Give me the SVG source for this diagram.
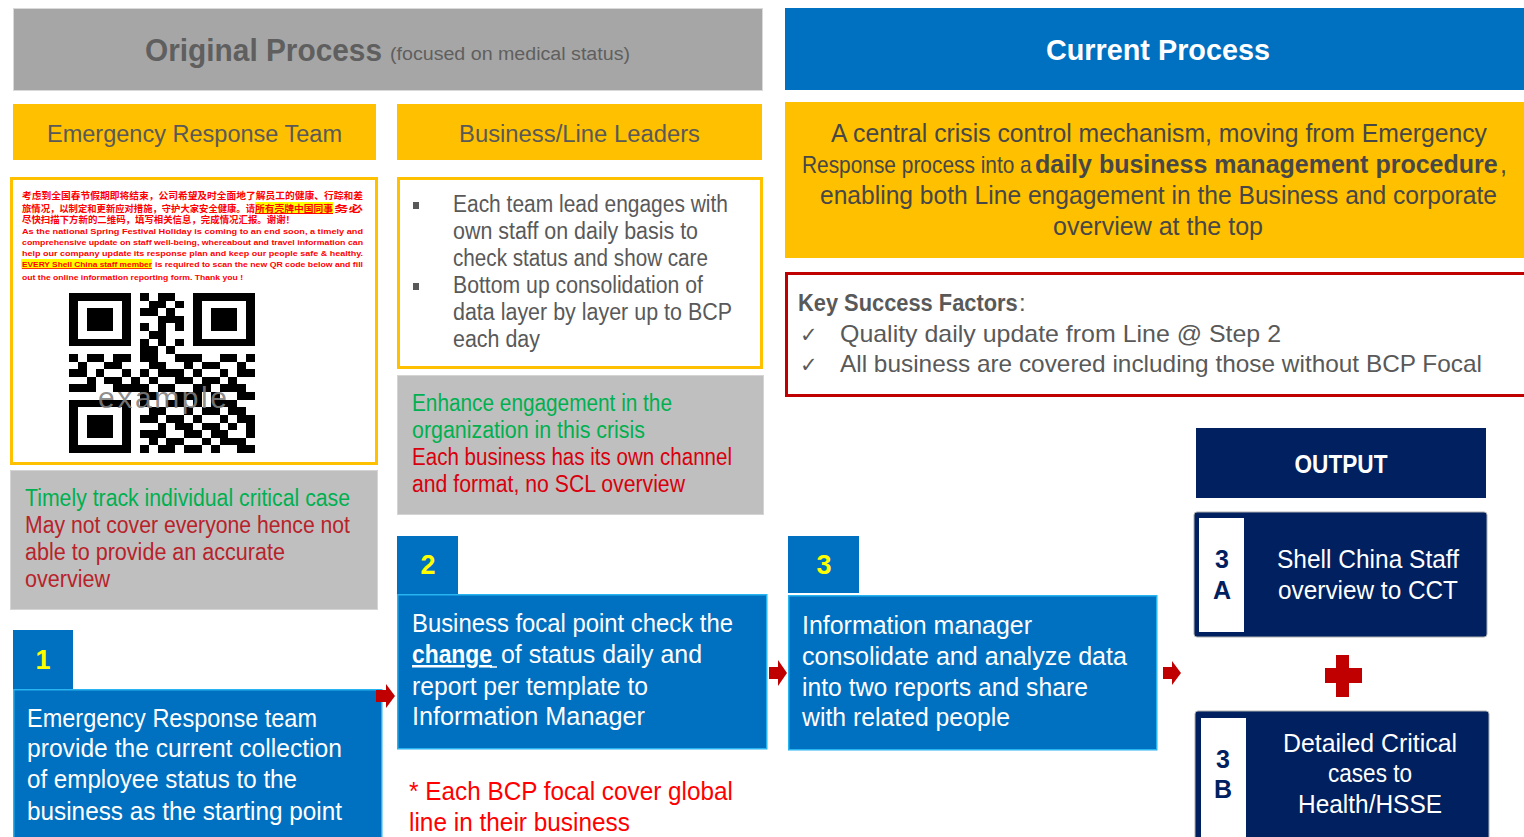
<svg xmlns="http://www.w3.org/2000/svg" width="1524" height="837" viewBox="0 0 1524 837">
<style>
text { font-family: "Liberation Sans", Arial, sans-serif; }
.gt { fill:#595959; }
.dg { fill:#474747; }
.yl { fill:#ffc000; }
.blue { fill:#0070c0; stroke:#28b4f0; stroke-width:1.5; }
.tab { fill:#0070c0; }
.num { fill:#ffff00; font-size:27px; font-weight:bold; text-anchor:middle; }
.step { fill:#ffffff; font-size:25px; }
.gray { fill:#bfbfbf; stroke:#d4d4d4; stroke-width:1; }
.green { fill:#00b050; font-size:23px; }
.red1 { fill:#b8232b; font-size:23px; }
.red2 { fill:#d9000d; font-size:23px; }
.navy { fill:#002060; stroke:#b0b0b0; stroke-width:1; }
.wbox { fill:#ffffff; stroke:#002060; stroke-width:1; }
.nv { fill:#002060; font-size:25px; font-weight:bold; text-anchor:middle; }
.out { fill:#ffffff; font-size:26px; text-anchor:middle; }
.arrow { fill:#c00000; }
.en { fill:#ff0000; font-weight:bold; font-size:8px; }
.cn { fill:#ff0000; font-weight:bold; font-size:9.6px; font-family:"Noto Sans CJK SC", sans-serif; }
.bul { fill:#595959; font-size:23px; }
.mk { font-family:"DejaVu Sans", sans-serif; }
</style>
<rect x="0" y="0" width="1524" height="837" fill="#ffffff"/>

<g id="header-original">
  <rect x="13.5" y="8.5" width="749" height="82" fill="#a6a6a6" stroke="#d9d9d9" stroke-width="1"/>
  <text x="145" y="61" font-size="32" font-weight="bold" fill="#5f5f5f" textLength="237" lengthAdjust="spacingAndGlyphs">Original Process</text>
  <text x="390" y="60" font-size="18" fill="#5f5f5f" textLength="240" lengthAdjust="spacingAndGlyphs">(focused on medical status)</text>
</g>

<g id="header-current">
  <rect x="785" y="8" width="739" height="82" fill="#0070c0"/>
  <text x="1046" y="60" font-size="30" font-weight="bold" fill="#ffffff" textLength="224" lengthAdjust="spacingAndGlyphs">Current Process</text>
</g>

<g id="ert-header">
  <rect x="13" y="104" width="363" height="56" class="yl"/>
  <text x="47" y="142" font-size="23" class="gt" textLength="295" lengthAdjust="spacingAndGlyphs">Emergency Response Team</text>
</g>

<g id="bll-header">
  <rect x="397" y="104" width="365" height="56" class="yl"/>
  <text x="459" y="142" font-size="23" class="gt" textLength="241" lengthAdjust="spacingAndGlyphs">Business/Line Leaders</text>
</g>

<g id="notice">
  <rect x="11.5" y="178.5" width="365" height="285" fill="#ffffff" stroke="#ffc000" stroke-width="3"/>
  <rect x="255" y="202" width="78" height="12" fill="#ffff00"/>
  <rect x="21" y="259" width="131" height="10" fill="#ffff00"/>
  <text x="22" y="199" class="cn" textLength="341" lengthAdjust="spacingAndGlyphs">考虑到全国春节假期即将结束，公司希望及时全面地了解员工的健康、行踪和差</text>
  <text x="22" y="212" class="cn" textLength="233" lengthAdjust="spacingAndGlyphs">旅情况，以制定和更新应对措施，守护大家安全健康。请</text>
  <text x="255" y="212" class="cn" textLength="78" lengthAdjust="spacingAndGlyphs" text-decoration="underline">所有壳牌中国同事</text>
  <text x="334" y="212" class="cn" textLength="29" lengthAdjust="spacingAndGlyphs">务必</text>
  <text x="22" y="223" class="cn" textLength="273" lengthAdjust="spacingAndGlyphs">尽快扫描下方新的二维码，填写相关信息，完成情况汇报。谢谢！</text>
  <text x="22" y="234" class="en" textLength="341" lengthAdjust="spacingAndGlyphs">As the national Spring Festival Holiday is coming to an end soon, a timely and</text>
  <text x="22" y="245" class="en" textLength="341" lengthAdjust="spacingAndGlyphs">comprehensive update on staff well-being, whereabout and travel information can</text>
  <text x="22" y="256" class="en" textLength="341" lengthAdjust="spacingAndGlyphs">help our company update its response plan and keep our people safe &amp; healthy.</text>
  <text x="22" y="267" class="en" textLength="130" lengthAdjust="spacingAndGlyphs" text-decoration="underline">EVERY Shell China staff member</text>
  <text x="155" y="267" class="en" textLength="208" lengthAdjust="spacingAndGlyphs">is required to scan the new QR code below and fill</text>
  <text x="22" y="280" class="en" textLength="221" lengthAdjust="spacingAndGlyphs">out the online information reporting form. Thank you !</text>
  <g transform="translate(69 293) scale(8.857 7.619)" fill="#000000" shape-rendering="crispEdges">
    <path d="M0 0h7v1h-7zM8 0h1v1h-1zM10 0h2v1h-2zM14 0h7v1h-7z
M0 1h1v1h-1zM6 1h1v1h-1zM9 1h2v1h-2zM12 1h1v1h-1zM14 1h1v1h-1zM20 1h1v1h-1z
M0 2h1v1h-1zM2 2h3v1h-3zM6 2h1v1h-1zM8 2h2v1h-2zM11 2h1v1h-1zM14 2h1v1h-1zM16 2h3v1h-3zM20 2h1v1h-1z
M0 3h1v1h-1zM2 3h3v1h-3zM6 3h1v1h-1zM10 3h3v1h-3zM14 3h1v1h-1zM16 3h3v1h-3zM20 3h1v1h-1z
M0 4h1v1h-1zM2 4h3v1h-3zM6 4h1v1h-1zM8 4h1v1h-1zM10 4h1v1h-1zM12 4h1v1h-1zM14 4h1v1h-1zM16 4h3v1h-3zM20 4h1v1h-1z
M0 5h1v1h-1zM6 5h1v1h-1zM9 5h2v1h-2zM14 5h1v1h-1zM20 5h1v1h-1z
M0 6h7v1h-7zM8 6h1v1h-1zM10 6h1v1h-1zM12 6h1v1h-1zM14 6h7v1h-7z
M8 7h2v1h-2zM11 7h1v1h-1z
M0 8h1v1h-1zM2 8h2v1h-2zM5 8h2v1h-2zM8 8h2v1h-2zM12 8h3v1h-3zM17 8h2v1h-2zM20 8h1v1h-1z
M1 9h1v1h-1zM4 9h2v1h-2zM9 9h2v1h-2zM13 9h1v1h-1zM15 9h2v1h-2zM19 9h1v1h-1z
M0 10h2v1h-2zM3 10h1v1h-1zM6 10h1v1h-1zM8 10h1v1h-1zM10 10h3v1h-3zM14 10h1v1h-1zM17 10h1v1h-1zM19 10h2v1h-2z
M2 11h1v1h-1zM4 11h2v1h-2zM7 11h1v1h-1zM9 11h1v1h-1zM12 11h2v1h-2zM15 11h2v1h-2zM18 11h1v1h-1z
M0 12h3v1h-3zM5 12h4v1h-4zM10 12h2v1h-2zM14 12h2v1h-2zM17 12h3v1h-3z
M8 13h2v1h-2zM12 13h3v1h-3zM16 13h1v1h-1zM19 13h2v1h-2z
M0 14h7v1h-7zM8 14h1v1h-1zM11 14h2v1h-2zM14 14h1v1h-1zM16 14h3v1h-3z
M0 15h1v1h-1zM6 15h1v1h-1zM9 15h2v1h-2zM13 15h1v1h-1zM15 15h2v1h-2zM18 15h2v1h-2z
M0 16h1v1h-1zM2 16h3v1h-3zM6 16h1v1h-1zM8 16h2v1h-2zM11 16h2v1h-2zM14 16h1v1h-1zM17 16h1v1h-1zM19 16h2v1h-2z
M0 17h1v1h-1zM2 17h3v1h-3zM6 17h1v1h-1zM10 17h1v1h-1zM12 17h2v1h-2zM15 17h2v1h-2zM18 17h1v1h-1zM20 17h1v1h-1z
M0 18h1v1h-1zM2 18h3v1h-3zM6 18h1v1h-1zM8 18h3v1h-3zM13 18h2v1h-2zM16 18h2v1h-2zM20 18h1v1h-1z
M0 19h1v1h-1zM6 19h1v1h-1zM9 19h1v1h-1zM11 19h2v1h-2zM15 19h1v1h-1zM17 19h3v1h-3z
M0 20h7v1h-7zM8 20h1v1h-1zM10 20h2v1h-2zM13 20h2v1h-2zM16 20h1v1h-1zM19 20h2v1h-2z"/>
  </g>
  <text x="98" y="408" font-family="Liberation Serif, serif" font-size="30" fill="#808080" fill-opacity="0.9" textLength="129" lengthAdjust="spacing">example</text>
</g>

<g id="ert-eval">
  <rect x="10.5" y="470.5" width="367" height="139" class="gray"/>
  <text x="25" y="506" class="green" textLength="325" lengthAdjust="spacingAndGlyphs">Timely track individual critical case</text>
  <text x="25" y="533" class="red1" textLength="325" lengthAdjust="spacingAndGlyphs">May not cover everyone hence not</text>
  <text x="25" y="560" class="red1" textLength="260" lengthAdjust="spacingAndGlyphs">able to provide an accurate</text>
  <text x="25" y="587" class="red1" textLength="85" lengthAdjust="spacingAndGlyphs">overview</text>
</g>

<g id="step1">
  <rect x="13" y="630" width="60" height="60" class="tab"/>
  <text x="43" y="669" class="num">1</text>
  <rect x="13.75" y="689.75" width="368" height="160" class="blue"/>
  <text x="27" y="727" class="step" textLength="290" lengthAdjust="spacingAndGlyphs">Emergency Response team</text>
  <text x="27" y="757" class="step" textLength="315" lengthAdjust="spacingAndGlyphs">provide the current collection</text>
  <text x="27" y="788" class="step" textLength="270" lengthAdjust="spacingAndGlyphs">of employee status to the</text>
  <text x="27" y="820" class="step" textLength="315" lengthAdjust="spacingAndGlyphs">business as the starting point</text>
</g>

<g id="bll-bullets">
  <rect x="398.5" y="178.5" width="363" height="189" fill="#ffffff" stroke="#ffc000" stroke-width="3"/>
  <rect x="413" y="202" width="6" height="7" fill="#595959"/>
  <rect x="413" y="283" width="6" height="7" fill="#595959"/>
  <text x="453" y="212" class="bul" textLength="275" lengthAdjust="spacingAndGlyphs">Each team lead engages with</text>
  <text x="453" y="239" class="bul" textLength="245" lengthAdjust="spacingAndGlyphs">own staff on daily basis to</text>
  <text x="453" y="266" class="bul" textLength="255" lengthAdjust="spacingAndGlyphs">check status and show care</text>
  <text x="453" y="293" class="bul" textLength="250" lengthAdjust="spacingAndGlyphs">Bottom up consolidation of</text>
  <text x="453" y="320" class="bul" textLength="279" lengthAdjust="spacingAndGlyphs">data layer by layer up to BCP</text>
  <text x="453" y="347" class="bul" textLength="87" lengthAdjust="spacingAndGlyphs">each day</text>
</g>

<g id="bll-eval">
  <rect x="397.5" y="375.5" width="366" height="139" class="gray"/>
  <text x="412" y="411" class="green" textLength="260" lengthAdjust="spacingAndGlyphs">Enhance engagement in the</text>
  <text x="412" y="438" class="green" textLength="233" lengthAdjust="spacingAndGlyphs">organization in this crisis</text>
  <text x="412" y="465" class="red2" textLength="320" lengthAdjust="spacingAndGlyphs">Each business has its own channel</text>
  <text x="412" y="492" class="red2" textLength="273" lengthAdjust="spacingAndGlyphs">and format, no SCL overview</text>
</g>

<g id="step2">
  <rect x="397" y="536" width="61" height="59" class="tab"/>
  <text x="428" y="574" class="num">2</text>
  <rect x="397.75" y="594.75" width="369" height="154" class="blue"/>
  <text x="412" y="632" class="step" textLength="321" lengthAdjust="spacingAndGlyphs">Business focal point check the</text>
  <text x="412" y="663" class="step" font-weight="bold" text-decoration="underline" textLength="80" lengthAdjust="spacingAndGlyphs">change</text>
  <line x1="490" y1="667" x2="497" y2="667" stroke="#ffffff" stroke-width="1.5"/>
  <text x="501" y="663" class="step" textLength="201" lengthAdjust="spacingAndGlyphs">of status daily and</text>
  <text x="412" y="695" class="step" textLength="236" lengthAdjust="spacingAndGlyphs">report per template to</text>
  <text x="412" y="725" class="step" textLength="233" lengthAdjust="spacingAndGlyphs">Information Manager</text>
</g>

<g id="footnote">
  <text x="409" y="800" font-size="25" fill="#ff0000" textLength="324" lengthAdjust="spacingAndGlyphs">* Each BCP focal cover global</text>
  <text x="409" y="831" font-size="25" fill="#ff0000" textLength="221" lengthAdjust="spacingAndGlyphs">line in their business</text>
</g>

<g id="step3">
  <rect x="788" y="536" width="71" height="57" class="tab"/>
  <text x="824" y="574" class="num">3</text>
  <rect x="788.75" y="595.75" width="368" height="154" class="blue"/>
  <text x="802" y="634" class="step" textLength="230" lengthAdjust="spacingAndGlyphs">Information manager</text>
  <text x="802" y="665" class="step" textLength="325" lengthAdjust="spacingAndGlyphs">consolidate and analyze data</text>
  <text x="802" y="696" class="step" textLength="286" lengthAdjust="spacingAndGlyphs">into two reports and share</text>
  <text x="802" y="726" class="step" textLength="208" lengthAdjust="spacingAndGlyphs">with related people</text>
</g>

<g id="current-desc">
  <rect x="785" y="102" width="739" height="156" class="yl"/>
  <text x="831" y="142" font-size="25" class="dg" textLength="656" lengthAdjust="spacingAndGlyphs">A central crisis control mechanism, moving from Emergency</text>
  <text transform="translate(802 173) scale(0.87 1)" font-size="24" class="dg">Response process into a</text>
  <text transform="translate(1035 173)" font-size="25" font-weight="bold" class="dg">daily business management procedure</text>
  <text x="1500" y="173" font-size="25" class="dg">,</text>
  <text x="820" y="204" font-size="25" class="dg" textLength="677" lengthAdjust="spacingAndGlyphs">enabling both Line engagement in the Business and corporate</text>
  <text x="1053" y="235" font-size="25" class="dg" textLength="210" lengthAdjust="spacingAndGlyphs">overview at the top</text>
</g>

<g id="ksf">
  <rect x="786.5" y="273.5" width="760" height="122" fill="#ffffff" stroke="#c00000" stroke-width="3"/>
  <text transform="translate(798 311) scale(0.91 1)" font-size="24" font-weight="bold" class="gt">Key Success Factors</text>
  <text x="1019" y="311" font-size="24" class="gt">:</text>
  <text x="800" y="342" font-size="21" class="gt mk">✓</text>
  <text x="840" y="342" font-size="24" class="gt" textLength="441" lengthAdjust="spacingAndGlyphs">Quality daily update from Line @ Step 2</text>
  <text x="800" y="372" font-size="21" class="gt mk">✓</text>
  <text x="840" y="372" font-size="24" class="gt" textLength="642" lengthAdjust="spacingAndGlyphs">All business are covered including those without BCP Focal</text>
</g>

<g id="output">
  <rect x="1196" y="428" width="290" height="70" fill="#002060"/>
  <text x="1341" y="473" font-size="26" font-weight="bold" fill="#ffffff" text-anchor="middle" textLength="93" lengthAdjust="spacingAndGlyphs">OUTPUT</text>
</g>

<g id="out-3a">
  <rect x="1194" y="512" width="293" height="125" rx="3" class="navy"/>
  <rect x="1198.5" y="517.5" width="46" height="115" class="wbox"/>
  <text x="1222" y="568" class="nv">3</text>
  <text x="1222" y="599" class="nv">A</text>
  <text x="1368" y="568" class="out" textLength="182" lengthAdjust="spacingAndGlyphs">Shell China Staff</text>
  <text x="1368" y="599" class="out" textLength="180" lengthAdjust="spacingAndGlyphs">overview to CCT</text>
</g>

<g id="plus">
  <rect x="1325" y="668" width="37" height="15" fill="#c00000"/>
  <rect x="1336" y="655" width="13" height="42" fill="#c00000"/>
</g>

<g id="out-3b">
  <rect x="1195" y="711" width="294" height="140" rx="3" class="navy"/>
  <rect x="1200.5" y="717.5" width="46" height="130" class="wbox"/>
  <text x="1223" y="768" class="nv">3</text>
  <text x="1223" y="798" class="nv">B</text>
  <text x="1370" y="752" class="out" textLength="174" lengthAdjust="spacingAndGlyphs">Detailed Critical</text>
  <text x="1370" y="782" class="out" textLength="84" lengthAdjust="spacingAndGlyphs">cases to</text>
  <text x="1370" y="813" class="out" textLength="144" lengthAdjust="spacingAndGlyphs">Health/HSSE</text>
</g>

<g id="connectors">
  <polygon class="arrow" points="376,690 386,690 386,684 395,696 386,708 386,702 376,702"/>
  <polygon class="arrow" points="769,667 778,667 778,660 787,673 778,686 778,679 769,679"/>
  <polygon class="arrow" points="1163,667 1172,667 1172,661 1181,673 1172,685 1172,679 1163,679"/>
</g>
</svg>
